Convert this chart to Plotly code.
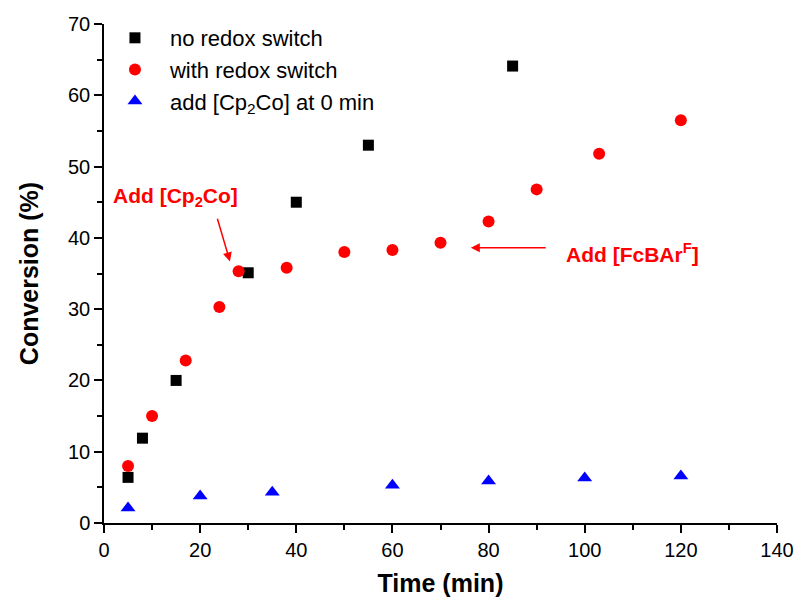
import plotly.graph_objects as go

# Data
t_no = [5, 8, 15, 30, 40, 55, 85]
c_no = [6.4, 11.9, 20.0, 35.1, 45.0, 53.0, 64.1]

t_with = [5, 10, 17, 24, 28, 38, 50, 60, 70, 80, 90, 103, 120]
c_with = [8.0, 15.0, 22.8, 30.3, 35.3, 35.8, 38.0, 38.3, 39.3, 42.3, 46.8, 51.8, 56.5]

t_add = [5, 20, 35, 60, 80, 100, 120]
c_add = [2.1, 3.8, 4.3, 5.3, 5.9, 6.3, 6.6]

FONT = "Liberation Sans, Arial, sans-serif"

fig = go.Figure()
fig.add_trace(go.Scatter(x=t_no, y=c_no, mode="markers", name="no redox switch",
                         legendgroup="a",
                         marker=dict(symbol="square", size=11, color="black")))
fig.add_trace(go.Scatter(x=t_with, y=c_with, mode="markers", name="with redox switch",
                         legendgroup="b",
                         marker=dict(symbol="circle", size=12, color="#ff0000")))
fig.add_trace(go.Scatter(x=t_add, y=c_add, mode="markers", name="add [Cp<sub>2</sub>Co] at 0 min",
                         legendgroup="c",
                         marker=dict(symbol="triangle-up", size=13, color="#0000ff")))

axis_common = dict(
    showline=True, linecolor="black", linewidth=1.5,
    ticks="outside", ticklen=8, tickwidth=1.5, tickcolor="black",
    showgrid=False, zeroline=False, mirror=False, automargin=False,
    tickfont=dict(family=FONT, size=20, color="black"),
)

fig.update_xaxes(range=[0, 140], dtick=20, tick0=0,
                 minor=dict(dtick=10, ticks="outside", ticklen=5, tickwidth=1.5, tickcolor="black"),
                 title=dict(text="<b>Time (min)</b>", font=dict(family=FONT, size=25, color="black"), standoff=15),
                 **axis_common)
fig.update_yaxes(range=[0, 70], dtick=10, tick0=0,
                 minor=dict(dtick=5, ticks="outside", ticklen=5, tickwidth=1.5, tickcolor="black"),
                 title=dict(text="<b>Conversion (%)</b>", font=dict(family=FONT, size=25, color="black"), standoff=22),
                 **axis_common)

fig.add_annotation(x=26.2, y=36.7, ax=23.5, ay=42.9, xref="x", yref="y", axref="x", ayref="y",
                   text="", showarrow=True, arrowhead=2, arrowsize=1.2, arrowwidth=1.5,
                   arrowcolor="#ff0000", standoff=0)
fig.add_annotation(x=14.9, y=45.7, xref="x", yref="y", showarrow=False,
                   text="<b>Add [Cp<sub>2</sub>Co]</b>",
                   font=dict(family=FONT, size=21, color="#ff0000"))
fig.add_annotation(x=76.3, y=38.6, ax=92.2, ay=38.6, xref="x", yref="y", axref="x", ayref="y",
                   text="", showarrow=True, arrowhead=2, arrowsize=1.2, arrowwidth=1.5,
                   arrowcolor="#ff0000", standoff=0)
fig.add_annotation(x=110.0, y=37.9, xref="x", yref="y", showarrow=False,
                   text="<b>Add [FcBAr<sup>F</sup>]</b>",
                   font=dict(family=FONT, size=21, color="#ff0000"))

fig.update_layout(
    width=798, height=602,
    margin=dict(l=104, r=21, t=24, b=79, autoexpand=False),
    paper_bgcolor="white", plot_bgcolor="white",
    font=dict(family=FONT, color="black"),
    showlegend=True,
    legend=dict(x=-0.006, y=1.014, xanchor="left", yanchor="top",
                font=dict(family=FONT, size=22, color="black"),
                bgcolor="rgba(0,0,0,0)", traceorder="grouped", tracegroupgap=0,
                itemwidth=60),
)

fig.write_html("out.html")
